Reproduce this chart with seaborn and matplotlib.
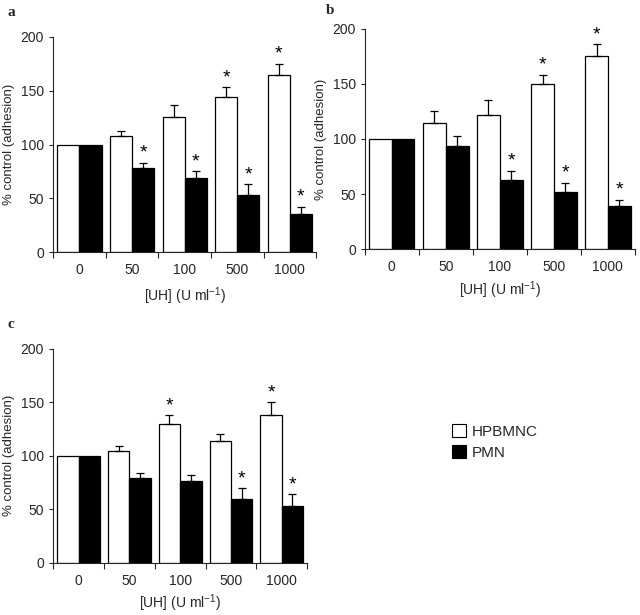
import matplotlib
matplotlib.use("Agg")
import matplotlib.pyplot as plt
import seaborn as sns
import pandas as pd
from matplotlib.patches import Patch

concs = ["0", "50", "100", "500", "1000"]
cells = ["HPBMNC", "PMN"]

a_hpbmnc = [100, 108, 126, 144, 165]
a_hpbmnc_err = [0, 5, 11, 9, 10]
a_pmn = [100, 78, 69, 53, 35.5]
a_pmn_err = [0, 5, 6, 10, 6.5]
a_star_h = [False, False, False, True, True]
a_star_p = [False, True, True, True, True]

b_hpbmnc = [100, 114.6, 122, 149.5, 175]
b_hpbmnc_err = [0, 11, 13, 9, 11]
b_pmn = [100, 94, 63, 52, 39]
b_pmn_err = [0, 9, 8, 8, 6]
b_star_h = [False, False, False, True, True]
b_star_p = [False, False, True, True, True]

c_hpbmnc = [100, 104, 130, 113.7, 138]
c_hpbmnc_err = [0, 5, 8, 7, 12]
c_pmn = [100, 79, 76, 59.6, 53]
c_pmn_err = [0, 5, 6, 10, 11]
c_star_h = [False, False, True, False, True]
c_star_p = [False, False, False, True, True]

sns.set_style("ticks")
plt.rcParams['font.family'] = ['Liberation Sans', 'DejaVu Sans']
plt.rcParams['mathtext.fontset'] = 'custom'
plt.rcParams['mathtext.rm'] = 'Liberation Sans'

fig = plt.figure(figsize=(6.4, 6.15), dpi=100)

panels = [
    ("a", [0.083, 0.590, 0.411, 0.350], a_hpbmnc, a_hpbmnc_err, a_pmn, a_pmn_err, a_star_h, a_star_p, (8 / 640, 1 - 12 / 615), 6),
    ("b", [0.570, 0.595, 0.422, 0.358], b_hpbmnc, b_hpbmnc_err, b_pmn, b_pmn_err, b_star_h, b_star_p, (326 / 640, 1 - 10 / 615), 4),
    ("c", [0.083, 0.085, 0.397, 0.348], c_hpbmnc, c_hpbmnc_err, c_pmn, c_pmn_err, c_star_h, c_star_p, (8 / 640, 1 - 325 / 615), 3),
]

palette = {"HPBMNC": "white", "PMN": "black"}

for letter, rect, h, he, p, pe, sh, sp, lpos, xlpad in panels:
    ax = fig.add_axes(rect)
    df = pd.DataFrame({
        "conc": concs * 2,
        "cell": ["HPBMNC"] * len(concs) + ["PMN"] * len(concs),
        "value": h + p,
    })
    sns.barplot(data=df, x="conc", y="value", hue="cell", hue_order=cells,
                order=concs, palette=palette, edgecolor="black", linewidth=0.9,
                width=0.84, errorbar=None, legend=False, saturation=1, ax=ax)
    for cont, vals, errs, stars in zip(ax.containers, [h, p], [he, pe], [sh, sp]):
        for bar, v, e, s in zip(cont, vals, errs, stars):
            xc = bar.get_x() + bar.get_width() / 2
            if e > 0:
                ax.errorbar([xc], [v], yerr=[[0], [e]], fmt="none", ecolor="black",
                            elinewidth=0.9, capsize=3, capthick=0.9, zorder=1)
            if s:
                ax.text(xc, v + e + 1, "*", ha="center", va="bottom", fontsize=14,
                        color="black")
    ax.set_ylim(0, 200)
    ax.set_yticks([0, 50, 100, 150, 200])
    ax.set_xlim(-0.5, 4.5)
    ax.set_xticks(range(len(concs)))
    ax.set_xticklabels(concs, fontsize=10)
    ax.set_xticks([i - 0.5 for i in range(len(concs) + 1)], minor=True)
    ax.tick_params(axis="x", which="major", length=0, pad=8)
    ax.tick_params(axis="x", which="minor", length=4, width=0.8, direction="out")
    ax.tick_params(axis="y", labelsize=10, length=3, width=0.8)
    ax.set_ylabel("% control (adhesion)", fontsize=9.5)
    ax.set_xlabel("[UH] (U ml$^{-1}$)", fontsize=10, labelpad=xlpad)
    for sp_ in ("left", "bottom"):
        ax.spines[sp_].set_linewidth(0.8)
    sns.despine(ax=ax)
    fig.text(lpos[0], lpos[1], letter, fontsize=11, fontweight="bold",
             family="Liberation Serif", ha="left", va="center")

handles = [Patch(facecolor="white", edgecolor="black", linewidth=0.8),
           Patch(facecolor="black", edgecolor="black", linewidth=0.8)]
fig.legend(handles, cells, loc="center left", bbox_to_anchor=(438 / 640, 1 - 442 / 615),
           frameon=False, fontsize=11, handlelength=0.9, handleheight=0.9,
           handletextpad=0.4, labelspacing=0.45)

fig.savefig("out.png", dpi=100)
